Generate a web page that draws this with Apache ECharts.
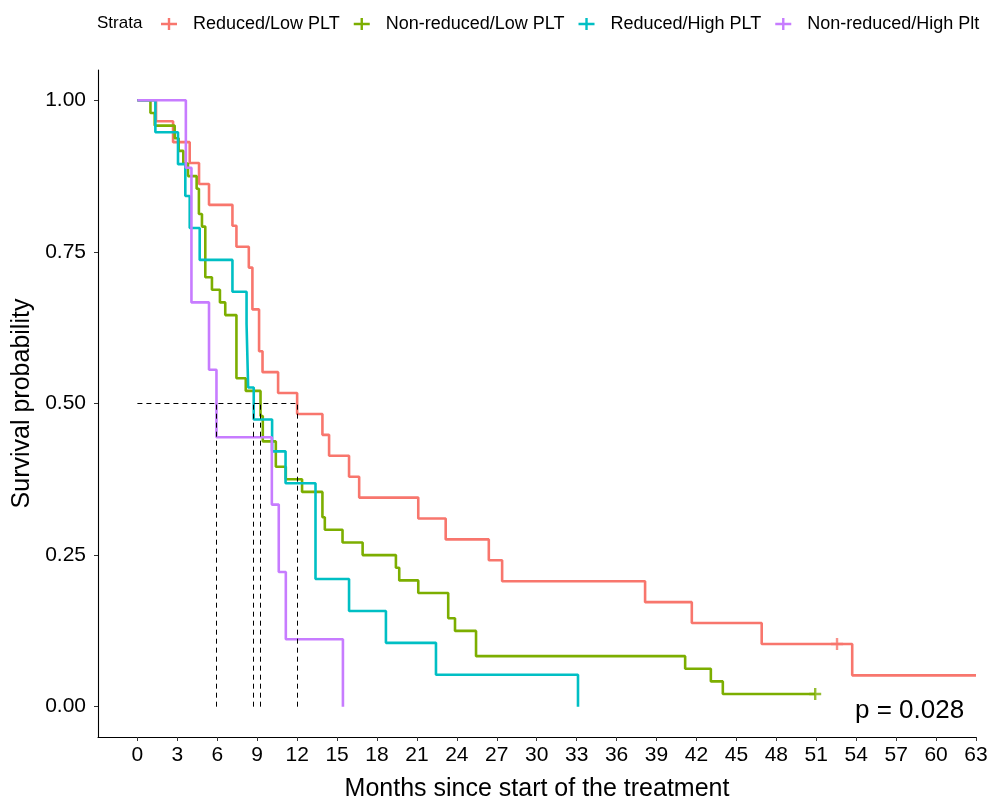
<!DOCTYPE html>
<html>
<head>
<meta charset="utf-8">
<title>KM</title>
<script src="https://cdn.jsdelivr.net/npm/echarts@6/dist/echarts.min.js"></script>
<style>
    html, body { margin: 0; padding: 0; background: #fff; }
    #km_show { width: 995px; height: 800px; }
</style>
</head>
<body>
<div id="km_show"></div>
<script>
// 各组的生存曲线 (时间, 生存率)
var names = ['Reduced/Low PLT', 'Non-reduced/Low PLT', 'Reduced/High PLT', 'Non-reduced/High Plt'];
var colors = ['#F8766D', '#7CAE00', '#00BFC4', '#C77CFF'];

var redTime = [0, 1.4, 2.68, 3.93, 4.63, 5.38, 7.14, 7.44, 8.37, 8.64, 9.14, 9.4, 10.57, 12.0, 13.9, 14.4, 15.9, 16.66, 21.1, 23.16, 26.4, 27.4, 38.14, 41.65, 46.9, 53.7, 63];
var redSurv = [1, 0.9655, 0.931, 0.8966, 0.8621, 0.8276, 0.7931, 0.7586, 0.7241, 0.6552, 0.5862, 0.5517, 0.5172, 0.4828, 0.4483, 0.4138, 0.3793, 0.3448, 0.3103, 0.2759, 0.2414, 0.2069, 0.1724, 0.1379, 0.1034, 0.0517, 0.0517];

var greenTime = [0, 0.98, 1.3, 2.8, 3.1, 3.45, 3.8, 4.45, 4.62, 4.85, 5.1, 5.6, 6.2, 6.6, 7.44, 8.14, 9.25, 9.42, 10.4, 11.15, 12.37, 13.9, 14.08, 15.41, 16.92, 19.42, 19.67, 21.1, 23.35, 23.86, 25.44, 41.15, 43.08, 43.98, 50.92];
var greenSurv = [1, 0.9792, 0.9583, 0.9375, 0.9167, 0.8958, 0.875, 0.8542, 0.8125, 0.7917, 0.7083, 0.6875, 0.6667, 0.6458, 0.5417, 0.5208, 0.4792, 0.4375, 0.3958, 0.375, 0.3542, 0.3125, 0.2917, 0.2708, 0.25, 0.2292, 0.2083, 0.1875, 0.1458, 0.125, 0.0833, 0.0625, 0.0417, 0.0208, 0.0208];

var tealTime = [0, 1.35, 3.05, 3.6, 3.93, 4.68, 7.14, 8.2, 8.32, 8.74, 10.12, 11.13, 13.38, 15.9, 18.67, 22.43, 33.1];
var tealSurv = [1, 0.9474, 0.8947, 0.8421, 0.7895, 0.7368, 0.6842, 0.6316, 0.5263, 0.4737, 0.4211, 0.3684, 0.2105, 0.1579, 0.1053, 0.0526, 0];

var purpleTime = [0, 3.64, 4.06, 5.38, 5.94, 10.1, 10.62, 11.15, 15.44];
var purpleSurv = [1, 0.8889, 0.6667, 0.5556, 0.4444, 0.3333, 0.2222, 0.1111, 0];

// 删失点
var censorTime = [52.56, 50.92];
var censorSurv = [0.1034, 0.0208];
var censorGroup = [0, 1];

// 中位生存时间
var medians = [12.0, 9.25, 8.74, 5.94];

var xTicks = [];
for (var t = 0; t <= 63; t += 3) {
    xTicks.push(t);
}
var yTicks = [0, 0.25, 0.5, 0.75, 1];

var font = 'Liberation Sans, Arial, sans-serif';
var plusPath = 'path://M4,0 L6,0 L6,4 L10,4 L10,6 L6,6 L6,10 L4,10 L4,6 L0,6 L0,4 L4,4 Z';
var keyPath = 'path://M0,4.8 L6.8,4.8 L6.8,0 L9.2,0 L9.2,4.8 L16,4.8 L16,7.2 L9.2,7.2 L9.2,12 L6.8,12 L6.8,7.2 L0,7.2 Z';

function zip(a, b) {
    var out = [];
    for (var i = 0; i < a.length; i++) {
        out.push([a[i], b[i]]);
    }
    return out;
}

var curves = [zip(redTime, redSurv), zip(greenTime, greenSurv), zip(tealTime, tealSurv), zip(purpleTime, purpleSurv)];

var series = [];
for (var i = 0; i < curves.length; i++) {
    series.push({
        name: names[i],
        type: 'line',
        step: 'end',
        showSymbol: false,
        symbol: 'none',
        color: colors[i],
        lineStyle: { width: 2.6, color: colors[i] },
        data: curves[i],
        z: 3
    });
}

for (var j = 0; j < censorTime.length; j++) {
    series.push({
        name: names[censorGroup[j]],
        type: 'scatter',
        symbol: plusPath,
        symbolSize: 12,
        itemStyle: { color: colors[censorGroup[j]] },
        data: [[censorTime[j], censorSurv[j]]],
        z: 4
    });
}

// 中位数虚线
var medLines = [[{ coord: [0, 0.5] }, { coord: [Math.max.apply(null, medians), 0.5] }]];
for (var k = 0; k < medians.length; k++) {
    medLines.push([{ coord: [medians[k], 0] }, { coord: [medians[k], 0.5] }]);
}
series.push({
    name: 'median',
    type: 'line',
    data: [],
    markLine: {
        silent: true,
        symbol: 'none',
        label: { show: false },
        lineStyle: { type: [5, 4], color: '#000', width: 1 },
        data: medLines
    },
    z: 2
});

var legendData = [];
for (var m = 0; m < names.length; m++) {
    legendData.push({ name: names[m], icon: keyPath, itemStyle: { color: colors[m] } });
}

var oChart = echarts.init(document.getElementById('km_show'));
var chartopt = {
    animation: false,
    backgroundColor: '#fff',
    legend: {
        data: legendData,
        left: 156,
        top: 10,
        itemWidth: 16,
        itemHeight: 12,
        itemGap: 14,
        textStyle: { fontFamily: font, fontSize: 18, color: '#000', padding: [0, 0, 0, 11] }
    },
    grid: {
        left: 98,
        right: 19,
        top: 70,
        bottom: 63,
        containLabel: false,
        outerBoundsMode: 'none'
    },
    xAxis: {
        type: 'value',
        min: -2.96,
        max: 63,
        name: 'Months since start of the treatment',
        nameLocation: 'middle',
        nameGap: 40,
        nameTextStyle: { fontFamily: font, fontSize: 25, color: '#000' },
        splitLine: { show: false },
        axisLine: { onZero: false, lineStyle: { color: '#000', width: 1.1 } },
        axisTick: { customValues: xTicks, length: 4, lineStyle: { color: '#333' } },
        axisLabel: { customValues: xTicks, margin: 8, fontFamily: font, fontSize: 21, color: '#000' }
    },
    yAxis: {
        type: 'value',
        min: -0.05,
        max: 1.05,
        name: 'Survival probability',
        nameLocation: 'middle',
        nameGap: 58,
        nameTextStyle: { fontFamily: font, fontSize: 25, color: '#000' },
        splitLine: { show: false },
        axisLine: { show: true, onZero: false, lineStyle: { color: '#000', width: 1.1 } },
        axisTick: { show: true, customValues: yTicks, length: 4, lineStyle: { color: '#333' } },
        axisLabel: {
            customValues: yTicks,
            margin: 12,
            fontFamily: font,
            fontSize: 21,
            color: '#000',
            formatter: function (v) { return v.toFixed(2); }
        }
    },
    graphic: [
        {
            type: 'text',
            left: 97,
            top: 15,
            style: { text: 'Strata', font: '17px ' + font, fill: '#000' }
        },
        {
            type: 'text',
            left: 855,
            top: 698,
            style: { text: 'p = 0.028', font: '26px ' + font, fill: '#000' }
        }
    ],
    series: series
};
oChart.setOption(chartopt);
</script>
</body>
</html>
